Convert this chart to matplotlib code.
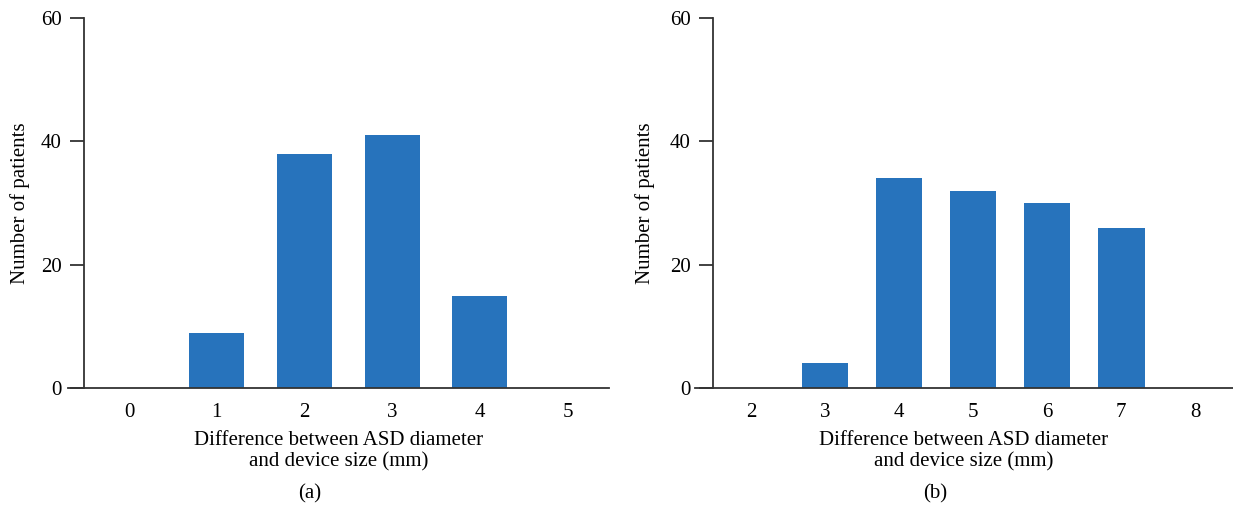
import matplotlib
matplotlib.use("Agg")
import matplotlib.pyplot as plt

# panel (a)
cats_a = [0, 1, 2, 3, 4, 5]
counts_a = [0, 9, 38, 41, 15, 0]
# panel (b)
cats_b = [2, 3, 4, 5, 6, 7, 8]
counts_b = [0, 4, 34, 32, 30, 26, 0]

y_ticks = [0, 20, 40, 60]
x_label = "Difference between ASD diameter\nand device size (mm)"
y_label = "Number of patients"
bar_color = "#2773bc"

plt.rcParams['font.family'] = ['Liberation Serif', 'DejaVu Serif']
plt.rcParams['font.size'] = 15


def style_axis(ax, cats, counts, xlim, spine_x):
    ax.bar(cats, counts, width=0.63, color=bar_color, zorder=2)
    ax.set_xlim(xlim)
    ax.set_ylim(0, 60)
    ax.set_xticks(cats)
    ax.set_yticks(y_ticks)
    for s in ['top', 'right']:
        ax.spines[s].set_visible(False)
    ax.spines['left'].set_position(('data', spine_x))
    for s in ['left', 'bottom']:
        ax.spines[s].set_linewidth(1.3)
        ax.spines[s].set_color('#333333')
        ax.spines[s].set_zorder(3)
    ax.tick_params(axis='y', length=10, width=1.3, color='#333333', pad=6)
    ax.tick_params(axis='x', length=0, pad=11)
    ax.set_xlabel(x_label, linespacing=1.15, labelpad=6)


fig = plt.figure(figsize=(12.33, 5.11), dpi=100)
ax1 = fig.add_axes([68/1233, 1 - 388/511, 541/1233, 370/511])
ax2 = fig.add_axes([695/1233, 1 - 388/511, 538/1233, 370/511])

style_axis(ax1, cats_a, counts_a, (-0.696, 5.473), -0.513)
style_axis(ax2, cats_b, counts_b, (1.243, 8.51), 1.486)

fig.text(20/1233, 1 - 203/511, y_label, rotation=90, ha='center', va='center')
fig.text(645/1233, 1 - 203/511, y_label, rotation=90, ha='center', va='center')
fig.text(310/1233, 1 - 494/511, "(a)", ha='center', va='center')
fig.text(935/1233, 1 - 494/511, "(b)", ha='center', va='center')

fig.savefig("out.png", dpi=100)
